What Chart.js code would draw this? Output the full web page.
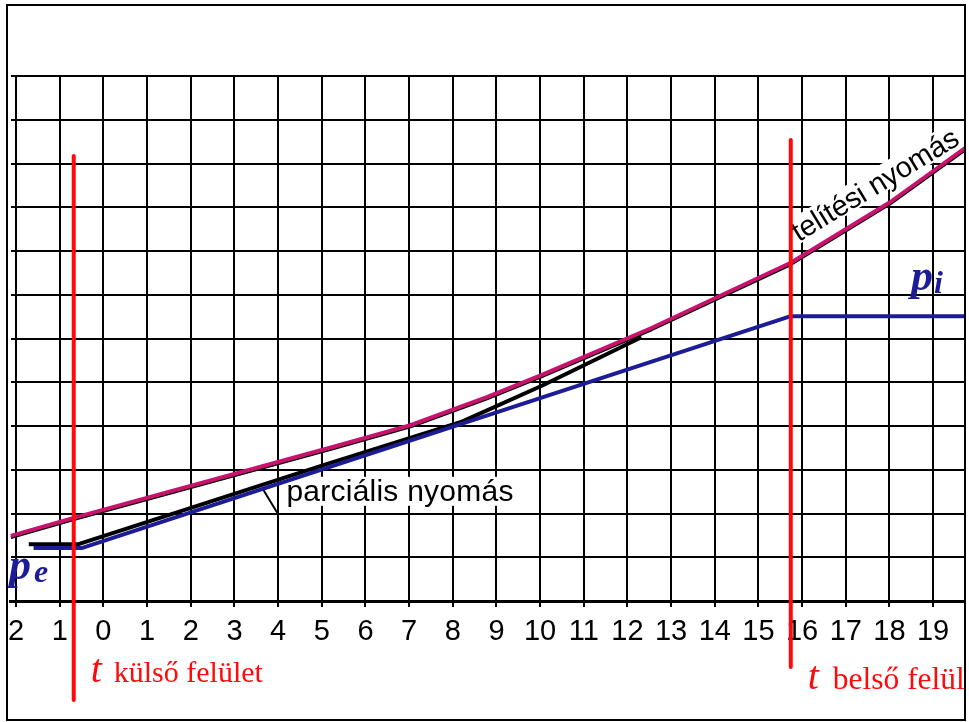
<!DOCTYPE html>
<html>
<head>
<meta charset="utf-8">
<script src="https://cdn.jsdelivr.net/npm/chart.js@4.4.1/dist/chart.umd.min.js"></script>
<style>
  html, body { margin: 0; padding: 0; background: #fff; }
</style>
</head>
<body>
<canvas id="chart" width="969" height="722"></canvas>
<script>
// Wall cross-section: x along the layers, y in grid units of vapour pressure.
const xTicks = [-2, -1, 0, 1, 2, 3, 4, 5, 6, 7, 8, 9, 10, 11, 12, 13, 14, 15, 16, 17, 18, 19];
const xTickLabels = ['2', '1', '0', '1', '2', '3', '4', '5', '6', '7', '8', '9', '10',
                     '11', '12', '13', '14', '15', '16', '17', '18', '19'];

// saturation pressure (telítési nyomás)
const satX = [-2.12, -0.68, 5.25, 7.03, 8.78, 10.04, 12.55, 15.74, 18.02, 19.73];
const satY = [1.49, 1.90, 3.52, 4.02, 4.66, 5.17, 6.24, 7.73, 9.12, 10.35];

// the inked line under the saturation curve
const satInkX = [-2.12, -0.68, 5.25, 7.03, 8.78, 10.04, 12.55, 15.74, 18.02, 19.73];
const satInkY = [1.45, 1.86, 3.48, 3.98, 4.62, 5.13, 6.20, 7.69, 9.08, 10.31];

// partial pressure (parciális nyomás), inked original
const partInkX = [-1.71, -0.57, 5.02, 8.21, 10.04, 12.32];
const partInkY = [1.30, 1.30, 3.10, 4.10, 4.92, 6.03];

// partial pressure, p_e outside -> p_i inside
const partX = [-1.60, -0.50, 15.74, 19.73];
const partY = [1.21, 1.21, 6.51, 6.51];

// outer and inner surface
const surfOutX = [-0.68, -0.68];
const surfOutY = [10.17, -2.26];
const surfInX = [15.74, 15.74];
const surfInY = [10.54, -1.51];

// leader from the label to the partial pressure line
const leaderX = [3.65, 3.99];
const leaderY = [2.56, 2.0];

const pts = (xs, ys) => xs.map((x, i) => ({ x, y: ys[i] }));

const RED = '#ff0a0a';
const MAGENTA = '#c8126e';
const BLUE = '#1c1c96';
const SANS = "'Liberation Sans', Arial, sans-serif";
const SERIF = "'Liberation Serif', 'DejaVu Serif', serif";

function line(data, color, width) {
  return {
    data, borderColor: color, borderWidth: width, pointRadius: 0,
    fill: false, tension: 0, clip: false,
    borderCapStyle: 'butt', borderJoinStyle: 'round',
  };
}

// fit a string to a given width by spreading the letters
function fitText(ctx, text, width) {
  ctx.letterSpacing = '0px';
  const w = ctx.measureText(text).width;
  ctx.letterSpacing = ((width - w) / (text.length - 1)).toFixed(2) + 'px';
}

const labels = {
  id: 'labels',
  beforeDatasetsDraw(chart) {
    const { ctx, scales: { x, y } } = chart;
    ctx.save();

    // parciális nyomás, on a white patch that hides the grid
    const px = x.getPixelForValue(4.19), py = y.getPixelForValue(2.29);
    ctx.fillStyle = '#fff';
    ctx.fillRect(px - 2, py - 24, 234, 29);
    ctx.font = '30px ' + SANS;
    ctx.fillStyle = '#000';
    ctx.textBaseline = 'alphabetic';
    fitText(ctx, 'parciális nyomás', 227);
    ctx.fillText('parciális nyomás', px, py);

    // telítési nyomás, along the curve
    const tx = x.getPixelForValue(15.92), ty = y.getPixelForValue(8.20);
    ctx.translate(tx, ty);
    ctx.rotate(-31.3 * Math.PI / 180);
    ctx.fillStyle = '#fff';
    ctx.fillRect(-2, -24, 194, 26);
    ctx.fillStyle = '#000';
    ctx.font = '29px ' + SANS;
    fitText(ctx, 'telítési nyomás', 190);
    ctx.fillText('telítési nyomás', 0, 0);
    ctx.restore();
  },
  afterDraw(chart) {
    const { ctx, scales: { x, y } } = chart;
    ctx.save();
    ctx.letterSpacing = '0px';
    ctx.textBaseline = 'alphabetic';

    // surface captions
    const ox = x.getPixelForValue(surfOutX[0]);
    ctx.fillStyle = RED;
    ctx.font = 'italic 40px ' + SERIF;
    ctx.fillText('t', ox + 17, 682);
    ctx.font = '30px ' + SERIF;
    ctx.fillText('külső felület', ox + 40, 682);

    // inner caption runs off the right edge
    const ix = x.getPixelForValue(surfInX[0]);
    ctx.save();
    ctx.beginPath();
    ctx.rect(0, 0, 964, 722);
    ctx.clip();
    ctx.font = 'italic 40px ' + SERIF;
    ctx.fillText('t', ix + 17, 689);
    ctx.font = '31.5px ' + SERIF;
    ctx.fillText('belső felület', ix + 42, 689);
    ctx.restore();

    // p_e and p_i
    ctx.fillStyle = BLUE;
    const pe = y.getPixelForValue(partY[0]);
    ctx.font = 'italic bold 44px ' + SERIF;
    ctx.fillText('p', 9, pe + 31);
    ctx.font = 'italic bold 32px ' + SERIF;
    ctx.fillText('e', 34, pe + 34);
    const pi = y.getPixelForValue(partY[3]);
    ctx.font = 'italic bold 44px ' + SERIF;
    ctx.fillText('p', 911, pi - 26);
    ctx.font = 'italic bold 32px ' + SERIF;
    ctx.fillText('i', 934, pi - 23);

    // frame
    ctx.strokeStyle = '#000';
    ctx.lineWidth = 2;
    ctx.strokeRect(7, 5, 958, 715);
    ctx.restore();
  },
};

new Chart(document.getElementById('chart'), {
  type: 'line',
  data: {
    datasets: [
      line(pts(surfOutX, surfOutY), RED, 4),
      line(pts(surfInX, surfInY), RED, 4),
      line(pts(satX, satY), MAGENTA, 4),
      line(pts(partX, partY), BLUE, 4),
      line(pts(satInkX, satInkY), '#000', 3),
      line(pts(partInkX, partInkY), '#000', 4),
      line(pts(leaderX, leaderY), '#000', 2),
    ],
  },
  options: {
    responsive: false,
    animation: false,
    devicePixelRatio: 1,
    layout: { padding: { left: 7, right: 4, top: 76, bottom: 0 } },
    plugins: { legend: { display: false }, tooltip: { enabled: false } },
    scales: {
      x: {
        type: 'linear',
        min: -2.12,
        max: 19.73,
        afterBuildTicks: s => { s.ticks = xTicks.map(v => ({ value: v })); },
        afterFit: s => { s.height = 121; },
        ticks: {
          autoSkip: false,
          maxRotation: 0,
          padding: 8,
          color: '#000',
          font: { family: SANS, size: 29 },
          callback: (v, i) => xTickLabels[i],
        },
        grid: { color: '#000', lineWidth: 2, tickLength: 6, drawTicks: true },
        border: { display: true, color: '#000', width: 3 },
      },
      y: {
        type: 'linear',
        min: 0,
        max: 12,
        afterFit: s => { s.width = 0; },
        ticks: { display: false, stepSize: 1 },
        grid: { color: '#000', lineWidth: 2, drawTicks: false },
        border: { display: false },
      },
    },
  },
  plugins: [labels],
});
</script>
</body>
</html>
